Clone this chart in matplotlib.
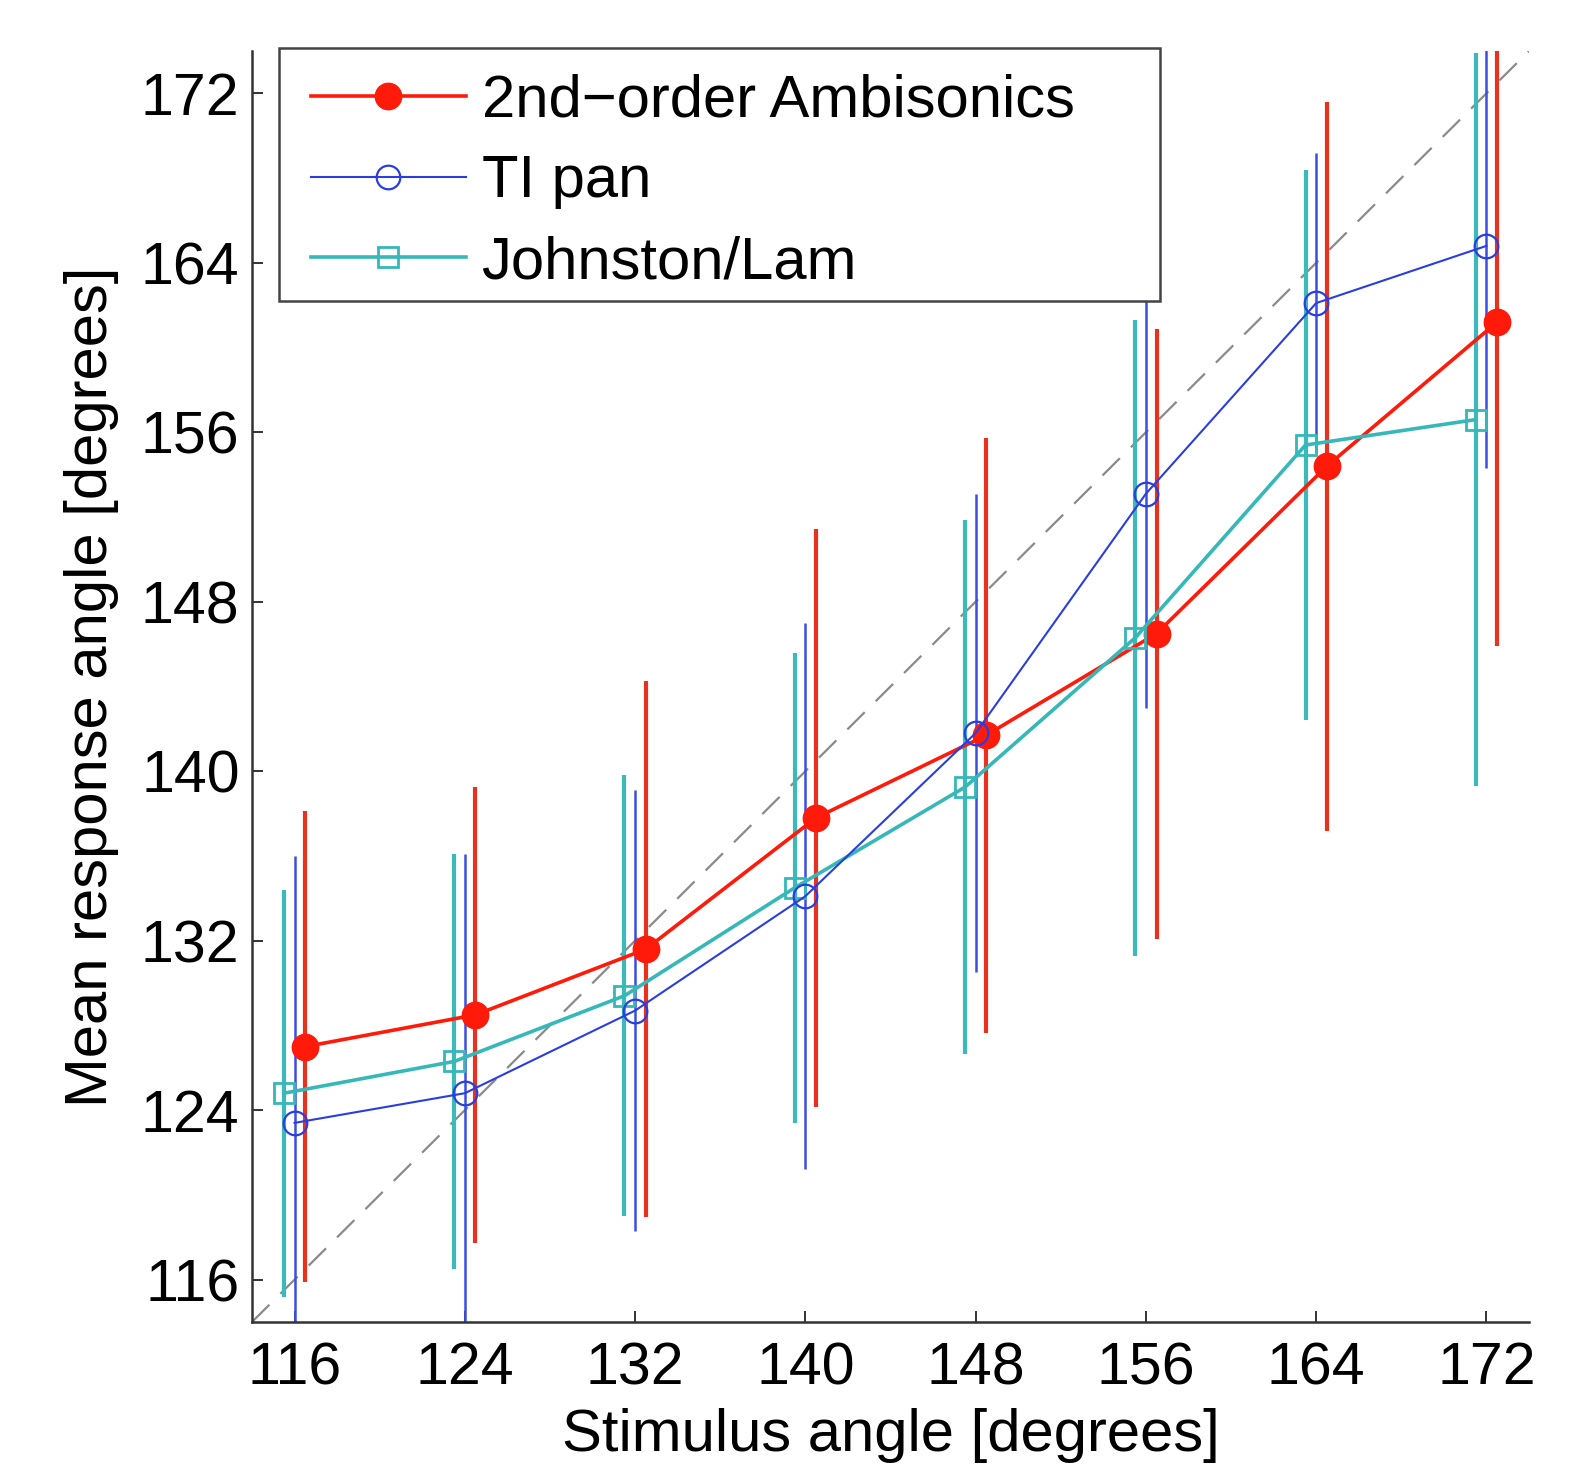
import matplotlib
matplotlib.use("Agg")
import matplotlib.pyplot as plt
from matplotlib.patches import Rectangle
import numpy as np

plt.rcParams['font.family'] = ['Liberation Sans', 'DejaVu Sans']

# ---- data ----
stimulus = [116, 124, 132, 140, 148, 156, 164, 172]
ticks = [116, 124, 132, 140, 148, 156, 164, 172]

ambi_mean = [127.0, 128.5, 131.6, 137.8, 141.7, 146.5, 154.4, 161.2]
ambi_err = [11.1, 10.75, 12.65, 13.65, 14.05, 14.4, 17.2, 15.3]

tipan_mean = [123.4, 124.8, 128.7, 134.1, 141.8, 153.1, 162.1, 164.8]
tipan_err = [12.6, 11.3, 10.4, 12.9, 11.3, 10.1, 7.1, 10.5]

jl_mean = [124.8, 126.3, 129.4, 134.5, 139.25, 146.3, 155.4, 156.6]
jl_err = [9.6, 9.8, 10.4, 11.1, 12.6, 15.0, 13.0, 17.3]

labels = ['2nd\u2212order Ambisonics', 'TI pan', 'Johnston/Lam']

# ---- figure ----
W, H = 1582, 1471
fig = plt.figure(figsize=(W / 100, H / 100), dpi=100)
ax = fig.add_axes([252 / W, 1 - 1322 / H, (1529 - 252) / W, (1322 - 51) / H])

FS = 43
TFS = 42.5
red = '#ff1a0a'
red_eb = '#e8311e'
blue = '#2a3ee0'
blue_eb = '#3a4fe0'
cyan = '#36b8b8'
cyan_eb = '#3cb9b9'

x = np.array(stimulus, dtype=float)

# identity reference line
ax.plot([114, 174], [114, 174], linestyle=(0, (11, 7)), color='#8a8a8a', lw=1.6, zorder=1)

# error bars (no caps)
ax.errorbar(x + 0.5, ambi_mean, yerr=ambi_err, fmt='none', ecolor=red_eb, elinewidth=3.0, capsize=0, zorder=2)
ax.errorbar(x, tipan_mean, yerr=tipan_err, fmt='none', ecolor=blue_eb, elinewidth=1.8, capsize=0, zorder=2)
ax.errorbar(x - 0.5, jl_mean, yerr=jl_err, fmt='none', ecolor=cyan_eb, elinewidth=3.0, capsize=0, zorder=2)

# lines with markers
h1, = ax.plot(x + 0.5, ambi_mean, '-o', color=red, lw=2.6, ms=19, mfc=red, mec=red, label=labels[0], zorder=4)
h2, = ax.plot(x, tipan_mean, '-o', color=blue, lw=1.5, ms=17, mfc='none', mec=blue, mew=1.6, label=labels[1], zorder=5)
h3, = ax.plot(x - 0.5, jl_mean, '-s', color=cyan, lw=2.6, ms=14.5, mfc='none', mec=cyan, mew=2.0, label=labels[2], zorder=4)

ax.set_xlim(114, 174)
ax.set_ylim(114, 174)
ax.set_xticks(ticks)
ax.set_yticks(ticks)
ax.set_xticklabels([str(t) for t in ticks])
ax.set_yticklabels([str(t) for t in ticks])

for s in ['top', 'right']:
    ax.spines[s].set_visible(False)
for s in ['left', 'bottom']:
    ax.spines[s].set_linewidth(1.8)
    ax.spines[s].set_color('#333333')

ax.tick_params(axis='both', direction='in', length=8, width=1.4, color='#333333', labelsize=TFS)
ax.tick_params(axis='x', pad=14)
ax.tick_params(axis='y', pad=9)

ax.set_xlabel('Stimulus angle [degrees]', fontsize=FS, labelpad=8)
ax.set_ylabel('Mean response angle [degrees]', fontsize=FS, labelpad=16)

# legend frame drawn in figure pixels, legend entries on top of it
frame = Rectangle((278.5 / W, 1 - 300.7 / H), (1160.2 - 278.5) / W, (300.7 - 48.4) / H,
                  transform=fig.transFigure, facecolor='white', edgecolor='#444444',
                  linewidth=1.8, zorder=4)
fig.add_artist(frame)

leg = fig.legend(handles=[h1, h2, h3], labels=labels, loc='upper left',
                 bbox_to_anchor=(294 / W, 1 - 57.0 / H), bbox_transform=fig.transFigure,
                 borderaxespad=0, fontsize=FS, frameon=False,
                 handlelength=2.6, handletextpad=0.26, labelspacing=0.43, borderpad=0.28)
leg.set_zorder(6)

fig.savefig('out.png', dpi=100, facecolor='white')
